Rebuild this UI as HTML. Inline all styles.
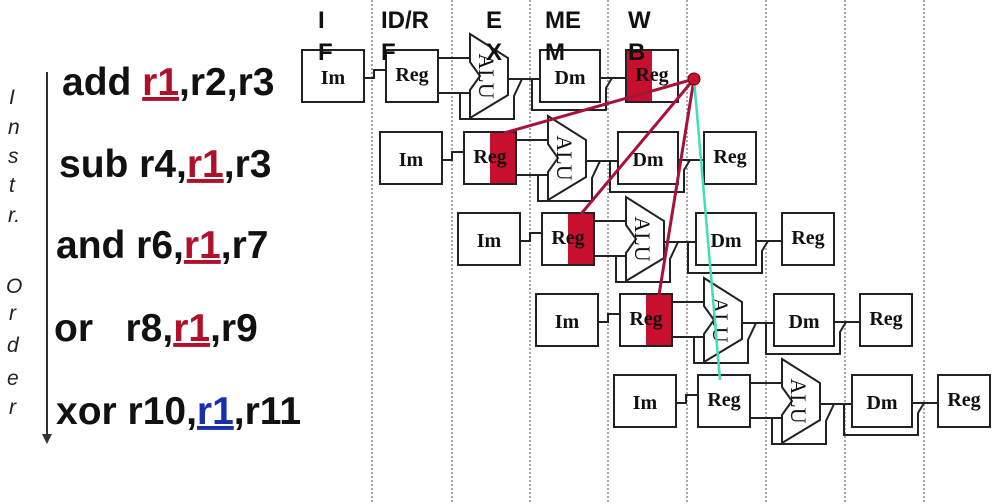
<!DOCTYPE html>
<html><head><meta charset="utf-8"><style>
html,body{margin:0;padding:0;background:#fff;}
svg{display:block;}
.b{fill:#fff;stroke:#222;stroke-width:2;}
.w{fill:none;stroke:#222;stroke-width:2;}
.t{font-family:"Liberation Serif",serif;font-weight:bold;font-size:20px;fill:#111;}
.h{font-family:"Liberation Sans",sans-serif;font-weight:bold;font-size:24px;fill:#111;}
.i{font-family:"Liberation Sans",sans-serif;font-weight:bold;font-size:39px;fill:#111;}
.o{font-family:"Liberation Sans",sans-serif;font-style:italic;font-size:21px;fill:#222;}
</style></head><body>
<svg width="993" height="504" viewBox="0 0 993 504" xmlns="http://www.w3.org/2000/svg">
<g stroke="#888" stroke-width="1.5" stroke-dasharray="2,2">
<line x1="372" y1="0" x2="372" y2="504"/><line x1="452" y1="0" x2="452" y2="504"/>
<line x1="530" y1="0" x2="530" y2="504"/><line x1="608" y1="0" x2="608" y2="504"/>
<line x1="687" y1="0" x2="687" y2="504"/><line x1="766" y1="0" x2="766" y2="504"/>
<line x1="845" y1="0" x2="845" y2="504"/><line x1="924" y1="0" x2="924" y2="504"/>
</g>
<g class="o">
<text x="9" y="104">I</text><text x="8" y="134">n</text><text x="8" y="163">s</text><text x="9" y="192">t</text><text x="8" y="222">r.</text>
<text x="6" y="293">O</text><text x="9" y="320">r</text><text x="7" y="352">d</text><text x="7" y="385">e</text><text x="9" y="414">r</text>
</g>
<line x1="47" y1="72" x2="47" y2="436" stroke="#333" stroke-width="2"/>
<polygon points="42,434 52,434 47,444" fill="#333"/>
<g class="i">
<text x="62" y="95">add <tspan fill="#b0102a" text-decoration="underline">r1</tspan>,r2,r3</text>
<text x="59" y="177">sub r4,<tspan fill="#b0102a" text-decoration="underline">r1</tspan>,r3</text>
<text x="56" y="258">and r6,<tspan fill="#b0102a" text-decoration="underline">r1</tspan>,r7</text>
<text x="54" y="341">or &#160; r8,<tspan fill="#b0102a" text-decoration="underline">r1</tspan>,r9</text>
<text x="56" y="424">xor r10,<tspan fill="#1a2fb0" text-decoration="underline">r1</tspan>,r11</text>
</g>
<defs>
<g id="row">
<path class="w" d="M62,28 H72 V20 H84 M136,8 H168 M136,43 H168 M158,43 V69 H212 V46 L220,29 M206,29 H238 M298,28 H324 M230,29 V60 H304 V38 L310,28"/>
<rect class="b" x="0" y="0" width="62" height="52"/>
<rect class="b" x="84" y="0" width="52" height="52"/>
<polygon class="b" points="168,-16 206,8 206,45 168,68 168,40 178,26 168,12"/>
<rect class="b" x="238" y="0" width="60" height="52"/>
<rect class="b" x="324" y="0" width="52" height="52"/>
</g>
<g id="lbl">
<text class="t" x="31" y="34" text-anchor="middle">Im</text>
<text class="t" x="110" y="31" text-anchor="middle">Reg</text>
<text class="t" x="268" y="34" text-anchor="middle">Dm</text>
<text class="t" x="350" y="31" text-anchor="middle">Reg</text>
<text class="t" transform="translate(184,26) rotate(90)" text-anchor="middle" dy="7" style="font-weight:normal;font-size:22px">ALU</text>
</g>
</defs>
<g transform="translate(302,50)"><use href="#row"/><rect x="325" y="1" width="25" height="50" fill="#c8102e"/><use href="#lbl"/></g>
<g transform="translate(380,132)"><use href="#row"/><rect x="110" y="1" width="25" height="50" fill="#c8102e"/><use href="#lbl"/></g>
<g transform="translate(458,213)"><use href="#row"/><rect x="110" y="1" width="25" height="50" fill="#c8102e"/><use href="#lbl"/></g>
<g transform="translate(536,294)"><use href="#row"/><rect x="110" y="1" width="25" height="50" fill="#c8102e"/><use href="#lbl"/></g>
<g transform="translate(614,375)"><use href="#row"/><use href="#lbl"/></g>
<g class="h">
<text x="318" y="28">I</text><text x="318" y="60">F</text>
<text x="381" y="28">ID/R</text><text x="381" y="60">F</text>
<text x="486" y="28">E</text><text x="486" y="60">X</text>
<text x="545" y="28">ME</text><text x="545" y="60">M</text>
<text x="628" y="28">W</text><text x="628" y="60">B</text>
</g>
<g stroke="#a8123a" stroke-width="3" fill="none">
<line x1="694" y1="79" x2="504" y2="133"/>
<line x1="694" y1="79" x2="581" y2="214"/>
<line x1="694" y1="79" x2="659" y2="295"/>
</g>
<line x1="694" y1="79" x2="720" y2="380" stroke="#3fe0b8" stroke-width="2.5"/>
<circle cx="694" cy="79" r="6" fill="#c8102e" stroke="#600" stroke-width="1"/>
</svg>
</body></html>
